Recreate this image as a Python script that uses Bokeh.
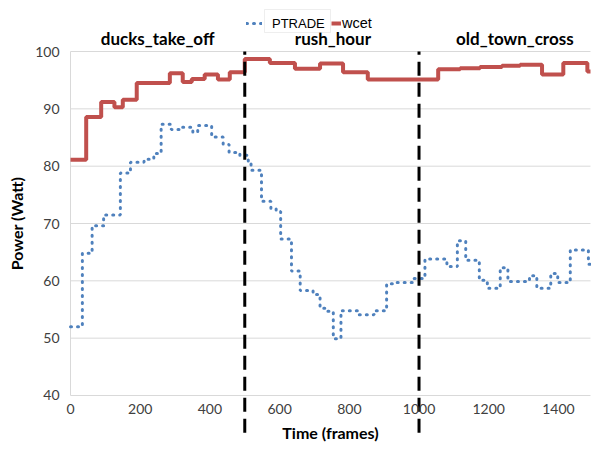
from bokeh.plotting import figure
from bokeh.models import Range1d, FixedTicker, Label, Legend, LegendItem, BoxAnnotation
from bokeh.embed import file_html
from bokeh.resources import INLINE

# ---- data ----
ptrade_frames = [0, 34, 62, 95, 143, 172, 211, 239, 260, 289, 321, 351, 365, 405, 438, 455,
                 486, 510, 518, 548, 575, 590, 603, 634, 659, 696, 716, 730, 754, 776, 826,
                 871, 907, 936, 986, 1017, 1080, 1110, 1134, 1173, 1196, 1233, 1255, 1317,
                 1338, 1378, 1398, 1434, 1486]
ptrade_values = [52.0, 64.8, 69.6, 71.5, 78.8, 80.7, 81.2, 82.2, 87.3, 86.4, 86.8, 85.9, 87.1,
                 85.1, 83.8, 82.4, 81.9, 80.5, 79.3, 73.9, 72.6, 72.1, 67.3, 61.7, 58.3, 57.6,
                 55.2, 54.7, 49.9, 54.8, 54.1, 54.8, 59.5, 59.7, 60.4, 63.8, 62.5, 67.0, 63.6,
                 60.1, 58.7, 62.3, 59.9, 60.9, 58.7, 61.3, 59.7, 65.4, 62.9]
wcet_frames = [0, 45, 88, 126, 150, 190, 285, 322, 348, 385, 423, 457, 500, 572, 644, 716,
               782, 853, 1055, 1118, 1175, 1238, 1290, 1353, 1414, 1483]
wcet_values = [81.1, 88.6, 91.2, 90.3, 91.6, 94.5, 96.2, 94.7, 95.2, 96.0, 95.1, 96.4, 98.7,
               98.0, 97.0, 97.9, 96.4, 95.1, 96.9, 97.1, 97.3, 97.5, 97.7, 96.0, 98.0, 96.5]
end_frame = 1492
boundaries = [500, 1000]
scenes = ["ducks_take_off", "rush_hour", "old_town_cross"]
scene_centers = [250, 753, 1275]
x_ticks = [0, 200, 400, 600, 800, 1000, 1200, 1400]
y_ticks = [40, 50, 60, 70, 80, 90, 100]

FONT = "Lato"
GRID = "#D9D9D9"
W, H = 591, 451
# frame covers the whole canvas; the plot area (0..1492 x 40..100) sits inside it
X_LO, X_HI = -200.9, 1494.9
Y_LO, Y_HI = 30.23, 108.9
DASH_LO = 33.5


def px_to_x(px):
    return X_LO + px / W * (X_HI - X_LO)


def py_to_y(py):
    return Y_HI - py / H * (Y_HI - Y_LO)


p = figure(width=W, height=H, output_backend="svg", toolbar_location=None,
           x_range=Range1d(X_LO, X_HI), y_range=Range1d(Y_LO, Y_HI),
           min_border=0, min_border_left=0, min_border_right=0,
           min_border_top=0, min_border_bottom=0)
p.outline_line_color = None
p.background_fill_color = "white"
p.border_fill_color = "white"
p.xgrid.visible = False
p.ygrid.visible = False

# x axis fixed at y=40
p.xaxis.fixed_location = y_ticks[0]
p.xaxis.bounds = (0, end_frame)
p.xaxis.ticker = FixedTicker(ticks=x_ticks)
p.xaxis.axis_line_color = None
p.xaxis.major_tick_line_color = None
p.xaxis.minor_tick_line_color = None
p.xaxis.major_tick_out = 0
p.xaxis.major_tick_in = 0
p.xaxis.major_label_standoff = 9
p.xaxis.major_label_text_font = FONT
p.xaxis.major_label_text_font_size = "14px"
p.xaxis.major_label_text_color = "#404040"
p.xaxis.axis_label = "Time (frames)"
p.xaxis.axis_label_text_font = FONT
p.xaxis.axis_label_text_font_size = "16px"
p.xaxis.axis_label_text_font_style = "bold"
p.xaxis.axis_label_text_color = "black"
p.xaxis.axis_label_standoff = 5

# y axis fixed at x=0
p.yaxis.fixed_location = 0
p.yaxis.bounds = (y_ticks[0], y_ticks[-1])
p.yaxis.ticker = FixedTicker(ticks=y_ticks)
p.yaxis.axis_line_color = None
p.yaxis.major_tick_line_color = None
p.yaxis.minor_tick_line_color = None
p.yaxis.major_tick_out = 0
p.yaxis.major_tick_in = 0
p.yaxis.major_label_standoff = 11
p.yaxis.major_label_text_font = FONT
p.yaxis.major_label_text_font_size = "14px"
p.yaxis.major_label_text_color = "#404040"
p.yaxis.axis_label = "Power (Watt)"
p.yaxis.axis_label_text_font = FONT
p.yaxis.axis_label_text_font_size = "16px"
p.yaxis.axis_label_text_font_style = "bold"
p.yaxis.axis_label_text_color = "black"
p.yaxis.axis_label_standoff = 6

# horizontal gridlines and left axis line (plot area only)
p.segment(x0=[0] * len(y_ticks), y0=y_ticks, x1=[end_frame] * len(y_ticks), y1=y_ticks,
          line_color=GRID, line_width=1)
p.segment(x0=[0], y0=[y_ticks[0]], x1=[0], y1=[y_ticks[-1]], line_color=GRID, line_width=1)

# series
wx = wcet_frames + [end_frame]
wy = wcet_values + [wcet_values[-1]]
px = ptrade_frames + [end_frame]
py = ptrade_values + [ptrade_values[-1]]

r_wcet = p.step(wx, wy, mode="after", line_color="#C0504D", line_width=4)
r_pt = p.step(px, py, mode="after", line_color="#4F81BD", line_width=3,
              line_dash="1 6", line_cap="round")

# scene boundaries
p.segment(x0=boundaries, y0=[DASH_LO] * len(boundaries), x1=boundaries,
          y1=[y_ticks[-1]] * len(boundaries),
          line_color="black", line_width=3, line_dash="14 7")

# scene titles
for name, cx in zip(scenes, scene_centers):
    p.add_layout(Label(x=cx, y=y_ticks[-1], y_offset=3, text=name, text_align="center",
                       text_baseline="bottom", text_font=FONT, text_font_size="17px",
                       text_font_style="bold", text_color="black"))

# legend (two parts, as in the reference) + the box round "PTRADE"
p.add_layout(BoxAnnotation(left=px_to_x(264), right=px_to_x(330),
                           top=py_to_y(9), bottom=py_to_y(32),
                           fill_color="white", fill_alpha=1,
                           line_color="#C8C8C8", line_width=1))
leg1 = Legend(items=[LegendItem(label="PTRADE", renderers=[r_pt])],
              orientation="horizontal", location=(246, 418),
              background_fill_alpha=0, border_line_color=None,
              padding=0, margin=0, spacing=0, label_standoff=10,
              glyph_width=16, glyph_height=20,
              label_text_font="Liberation Sans", label_text_font_size="13px",
              label_text_color="black")
leg2 = Legend(items=[LegendItem(label="wcet", renderers=[r_wcet])],
              orientation="horizontal", location=(331, 418),
              background_fill_alpha=0, border_line_color=None,
              padding=0, margin=0, spacing=0, label_standoff=1,
              glyph_width=10, glyph_height=20,
              label_text_font="Liberation Sans", label_text_font_size="14.5px",
              label_text_color="black")
p.add_layout(leg1, "center")
p.add_layout(leg2, "center")

open("out.html", "w").write(file_html(p, INLINE))
